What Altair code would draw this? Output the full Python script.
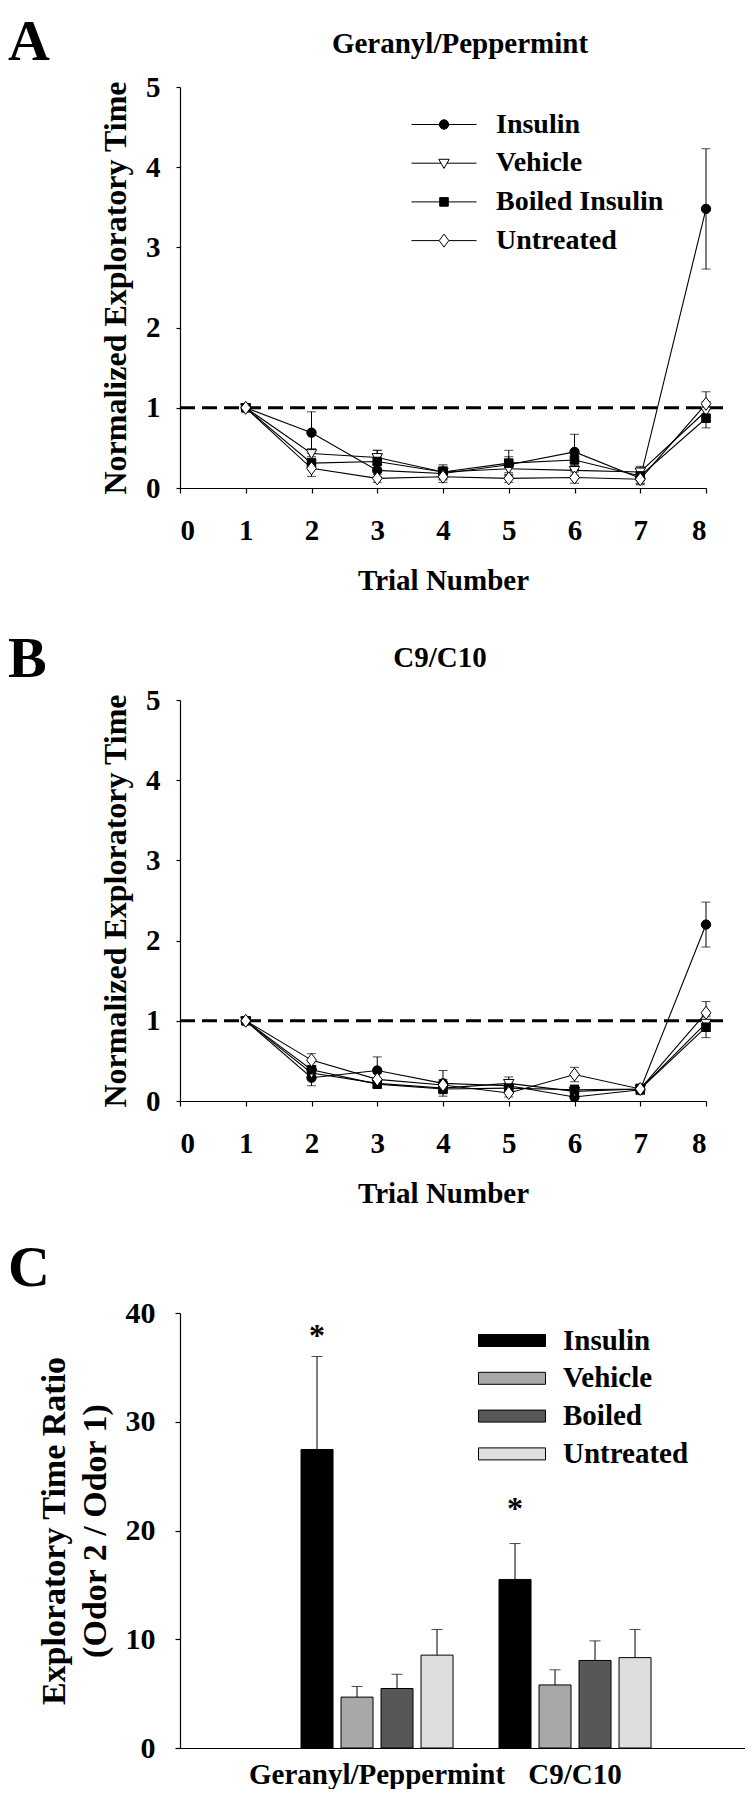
import altair as alt
import pandas as pd

FONT = "Liberation Serif"

# ---------------- data ----------------
trials = [1, 2, 3, 4, 5, 6, 7, 8]
x_ticks = [0, 1, 2, 3, 4, 5, 6, 7, 8]
y_ticks_ab = [0, 1, 2, 3, 4, 5]
series_ab = ["Insulin", "Vehicle", "Boiled Insulin", "Untreated"]

# Panel A  (Geranyl/Peppermint)
a_insulin = [1.0, 0.69, 0.22, 0.18, 0.29, 0.45, 0.12, 3.48]
a_insulin_sem = [0.0, 0.26, 0.08, 0.08, 0.10, 0.22, 0.08, 0.75]
a_vehicle = [1.0, 0.43, 0.38, 0.20, 0.24, 0.22, 0.20, 0.96]
a_vehicle_sem = [0.0, 0.06, 0.09, 0.07, 0.08, 0.06, 0.07, 0.12]
a_boiled = [1.0, 0.31, 0.33, 0.20, 0.31, 0.35, 0.15, 0.87]
a_boiled_sem = [0.0, 0.08, 0.14, 0.09, 0.16, 0.10, 0.10, 0.12]
a_untreated = [1.0, 0.245, 0.12, 0.14, 0.12, 0.13, 0.11, 1.05]
a_untreated_sem = [0.0, 0.10, 0.05, 0.07, 0.05, 0.07, 0.05, 0.15]

# Panel B  (C9/C10)
b_insulin = [1.0, 0.29, 0.38, 0.22, 0.19, 0.05, 0.14, 2.20]
b_insulin_sem = [0.0, 0.10, 0.17, 0.16, 0.07, 0.05, 0.06, 0.28]
b_vehicle = [1.0, 0.35, 0.22, 0.16, 0.22, 0.12, 0.15, 0.97]
b_vehicle_sem = [0.0, 0.06, 0.05, 0.05, 0.08, 0.05, 0.06, 0.10]
b_boiled = [1.0, 0.39, 0.21, 0.15, 0.16, 0.14, 0.15, 0.92]
b_boiled_sem = [0.0, 0.10, 0.05, 0.06, 0.06, 0.06, 0.06, 0.13]
b_untreated = [1.0, 0.51, 0.27, 0.20, 0.10, 0.33, 0.15, 1.10]
b_untreated_sem = [0.0, 0.08, 0.07, 0.07, 0.05, 0.09, 0.05, 0.14]

# dashed reference line (normalized = 1)
ref_level = [1.0]
ref_start = [0.0]
ref_end = [8.3]

# Panel C
c_groups = ["Geranyl/Peppermint", "C9/C10"]
c_treat = ["Insulin", "Vehicle", "Boiled", "Untreated"]
c_gp_mean = [27.45, 4.68, 5.47, 8.54]
c_gp_err = [8.55, 0.98, 1.31, 2.36]
c_c9_mean = [15.5, 5.80, 8.05, 8.31]
c_c9_err = [3.30, 1.39, 1.80, 2.59]
c_y_ticks = [0, 10, 20, 30, 40]
star_groups = ["Geranyl/Peppermint", "C9/C10"]
star_y = [38.3, 22.4]

# ---------------- styling ----------------
shape_paths = [
    "M0.72,0A0.72,0.72,0,1,1,-0.72,0A0.72,0.72,0,1,1,0.72,0Z",
    "M-0.8,-0.6L0.8,-0.6L0,0.8Z",
    "M-0.66,-0.66L0.66,-0.66L0.66,0.66L-0.66,0.66Z",
    "M0,-1L0.75,0L0,1L-0.75,0Z",
]
legend_paths = [
    "M-2.321,0L2.321,0M0.334,0A0.334,0.334,0,1,1,-0.334,0A0.334,0.334,0,1,1,0.334,0Z",
    "M-2.321,0L-0.212,0M0.212,0L2.321,0M-0.371,-0.279L0.371,-0.279L0,0.371Z",
    "M-2.321,0L2.321,0M-0.306,-0.306L0.306,-0.306L0.306,0.306L-0.306,0.306Z",
    "M-2.321,0L-0.348,0M0.348,0L2.321,0M0,-0.464L0.348,0L0,0.464L-0.348,0Z",
]
shape_fills = ["black", "white", "black", "white"]
bar_colors = ["#000000", "#a8a8a8", "#575757", "#dedede"]
rect_path = "M-2.31,-0.414L2.31,-0.414L2.31,0.414L-2.31,0.414Z"


def long_df(means, sems):
    rows = []
    for s, m, e in zip(series_ab, means, sems):
        for t, mv, ev in zip(trials, m, e):
            rows.append({"trial": t, "series": s, "mean": mv,
                         "lo": mv - ev, "hi": mv + ev, "sem": ev})
    return pd.DataFrame(rows)


def line_panel(df, title_text, title_x, title_y, letter, letter_y, with_legend):
    xs = alt.Scale(domain=[0, 8], nice=False, zero=False)
    ys = alt.Scale(domain=[0, 5], nice=False)
    xax = alt.Axis(values=x_ticks, format="d", tickSize=5, labelPadding=23,
                   labelFontSize=29, title="Trial Number", titleFontSize=29,
                   titleX=263, titleY=101, titleBaseline="alphabetic",
                   titleAlign="center", titleLimit=1000)
    yax = alt.Axis(values=y_ticks_ab, format="d", tickSize=4, labelPadding=16,
                   labelFontSize=29, title="Normalized Exploratory Time",
                   titleFontSize=32, titleX=-55, titleY=200.5, titleAngle=270,
                   titleBaseline="alphabetic", titleAlign="center", titleLimit=1000)
    X = alt.X("trial:Q", scale=xs, axis=xax)

    def Y(field):
        return alt.Y(field, type="quantitative", scale=ys, axis=yax)

    ref_df = pd.DataFrame({"trial": ref_start, "trial_end": ref_end, "mean": ref_level})
    ref = alt.Chart(ref_df).mark_rule(strokeDash=[15, 7], strokeWidth=3, color="black").encode(
        x=X, x2="trial_end:Q", y=Y("mean"))

    lines = alt.Chart(df).mark_line(strokeWidth=1.1, color="black").encode(
        x=X, y=Y("mean"), detail="series:N")

    err_df = df[df["sem"] > 0]
    err = alt.Chart(err_df).mark_rule(strokeWidth=1, color="black").encode(
        x=X, y=Y("lo"), y2="hi:Q")
    caps = alt.Chart(err_df).transform_fold(["lo", "hi"], as_=["end", "val"]).mark_tick(
        orient="horizontal", size=9, thickness=1, color="black").encode(x=X, y=Y("val"))

    pts = alt.Chart(df).mark_point(filled=True, size=169, stroke="black", strokeWidth=1,
                                   opacity=1).encode(
        x=X, y=Y("mean"),
        shape=alt.Shape("series:N", scale=alt.Scale(domain=series_ab, range=shape_paths),
                        legend=None),
        fill=alt.Fill("series:N", scale=alt.Scale(domain=series_ab, range=shape_fills),
                      legend=None),
        order=alt.Order("order:Q"))

    ttl = alt.Chart(pd.DataFrame({"t": [title_text]})).mark_text(
        font=FONT, fontWeight="bold", fontSize=29, baseline="middle", align="center",
        color="black").encode(x=alt.value(title_x), y=alt.value(title_y), text="t:N")
    let = alt.Chart(pd.DataFrame({"t": [letter]})).mark_text(
        font=FONT, fontWeight="bold", fontSize=58, baseline="top", align="left",
        color="black").encode(x=alt.value(-172), y=alt.value(letter_y), text="t:N")

    layers = [ref, lines, err, caps, pts, ttl, let]
    if with_legend:
        leg = alt.Legend(orient="none", legendX=249.5, legendY=23, title=None,
                         symbolSize=784, symbolStrokeColor="black", symbolStrokeWidth=1,
                         symbolOpacity=1, labelFont=FONT, labelFontSize=28,
                         labelFontWeight="bold", labelColor="black", labelOffset=37.5,
                         rowPadding=9.7, padding=0, labelLimit=400)
        leg_layer = alt.Chart(df).transform_filter("datum.trial < 0").mark_point(
            filled=False, strokeWidth=1, opacity=1).encode(
            x=X, y=Y("mean"),
            shape=alt.Shape("series:N", scale=alt.Scale(domain=series_ab, range=legend_paths),
                            legend=leg),
            fill=alt.Fill("series:N", scale=alt.Scale(domain=series_ab, range=shape_fills),
                          legend=leg),
            stroke=alt.Stroke("series:N", scale=alt.Scale(domain=series_ab, range=["black"] * 4),
                              legend=leg))
        layers.append(leg_layer)

    return alt.layer(*layers).resolve_scale(
        shape="independent", fill="independent", stroke="independent").properties(
        width=526, height=401)


df_a = long_df([a_insulin, a_vehicle, a_boiled, a_untreated],
               [a_insulin_sem, a_vehicle_sem, a_boiled_sem, a_untreated_sem])
df_b = long_df([b_insulin, b_vehicle, b_boiled, b_untreated],
               [b_insulin_sem, b_vehicle_sem, b_boiled_sem, b_untreated_sem])
for d in (df_a, df_b):
    d["order"] = d["series"].map({s: i for i, s in enumerate(series_ab)})

panel_a = line_panel(df_a, "Geranyl/Peppermint", 280, -43, "A", -73, True)
panel_b = line_panel(df_b, "C9/C10", 260, -42, "B", -69, False)

# ---------------- panel C ----------------
rows = []
for g, means, errs in ((c_groups[0], c_gp_mean, c_gp_err), (c_groups[1], c_c9_mean, c_c9_err)):
    for t, m, e in zip(c_treat, means, errs):
        rows.append({"group": g, "treat": t, "mean": m, "top": m + e})
df_c = pd.DataFrame(rows)
df_star = pd.DataFrame({"group": star_groups, "treat": ["Insulin"] * 2, "y": star_y, "s": ["*"] * 2})

xs_c = alt.Scale(domain=c_groups, paddingInner=0, paddingOuter=0.4268, align=0.58)
xo_c = alt.Scale(domain=c_treat, paddingInner=0.2, paddingOuter=0.575)
ys_c = alt.Scale(domain=[0, 40], nice=False)
xax_c = alt.Axis(title=None, ticks=False, tickSize=0, labelAngle=0, labelPadding=12,
                 labelFontSize=29, labelLimit=500)
yax_c = alt.Axis(values=c_y_ticks, format="d", tickSize=5, labelPadding=20, labelFontSize=30,
                 title=["Exploratory Time Ratio", "(Odor 2 / Odor 1)"], titleFontSize=34,
                 titleLineHeight=41, titleX=-126, titleY=217.5, titleAngle=270,
                 titleBaseline="middle", titleAlign="center", titleLimit=1000)
XC = alt.X("group:N", scale=xs_c, sort=c_groups, axis=xax_c)
XO = alt.XOffset("treat:N", scale=xo_c, sort=c_treat)


def YC(field):
    return alt.Y(field, type="quantitative", scale=ys_c, axis=yax_c)


leg_c = alt.Legend(orient="none", legendX=317, legendY=12.5, title=None, symbolType=rect_path,
                   symbolSize=841, symbolStrokeColor="black", symbolStrokeWidth=1,
                   symbolOpacity=1, labelFont=FONT, labelFontSize=29, labelFontWeight="bold",
                   labelColor="black", labelOffset=36, rowPadding=7.8, padding=0, labelLimit=400)

bars = alt.Chart(df_c).mark_bar(stroke="black", strokeWidth=1).encode(
    x=XC, xOffset=XO, y=YC("mean"),
    fill=alt.Fill("treat:N", scale=alt.Scale(domain=c_treat, range=bar_colors), legend=leg_c))
err_c = alt.Chart(df_c).mark_rule(strokeWidth=1, color="black").encode(
    x=XC, xOffset=XO, y=YC("mean"), y2="top:Q")
cap_c = alt.Chart(df_c).mark_tick(orient="horizontal", size=11, thickness=1, color="black").encode(
    x=XC, xOffset=XO, y=YC("top"))
stars = alt.Chart(df_star).mark_text(font=FONT, fontWeight="bold", fontSize=32, baseline="middle",
                                     dy=5, color="black").encode(
    x=XC, xOffset=XO, y=YC("y"), text="s:N")
let_c = alt.Chart(pd.DataFrame({"t": ["C"]})).mark_text(
    font=FONT, fontWeight="bold", fontSize=58, baseline="top", align="left",
    color="black").encode(x=alt.value(-172), y=alt.value(-73), text="t:N")

panel_c = alt.layer(bars, err_c, cap_c, stars, let_c).properties(width=565, height=435)

chart = alt.vconcat(panel_a, panel_b, panel_c, spacing=212, bounds="flush").resolve_scale(
    color="independent", shape="independent", fill="independent", stroke="independent",
    x="independent", y="independent"
).resolve_legend(color="independent", shape="independent", fill="independent",
                 stroke="independent").properties(
    padding={"left": 0, "top": 6, "right": 0, "bottom": 0}
).configure_view(stroke=None).configure_axis(
    labelFont=FONT, labelFontWeight="bold", labelColor="black",
    titleFont=FONT, titleFontWeight="bold", titleColor="black",
    domainColor="black", tickColor="black", domainWidth=1.2, tickWidth=1.2, grid=False
)

chart.save("out.html", embed_options={"renderer": "svg", "actions": False})
